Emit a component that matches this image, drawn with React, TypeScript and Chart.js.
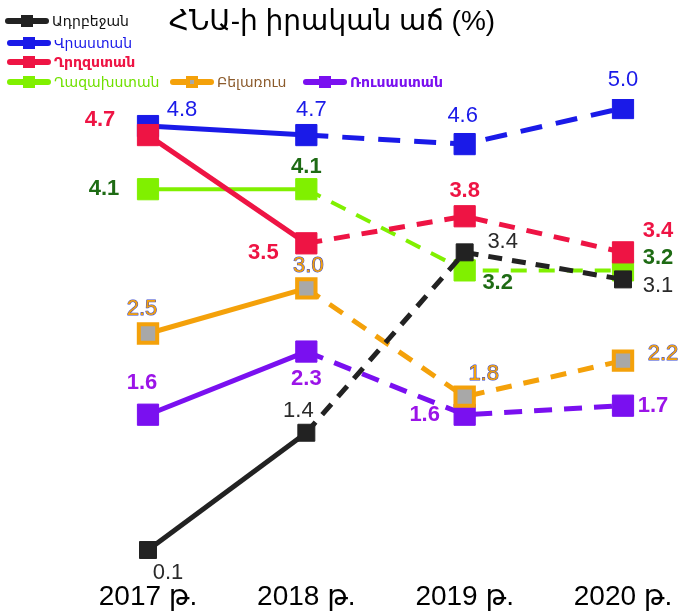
import React, { useEffect, useRef } from 'react';
import { Chart, registerables } from 'chart.js';

Chart.register(...registerables);

const TITLE = 'ՀՆԱ-ի իրական աճ (%)';
const YEARS = ['2017 թ.', '2018 թ.', '2019 թ.', '2020 թ.'];
const COUNTRIES = ['Ադրբեջան', 'Վրաստան', 'Ղրղզստան', 'Ղազախստան', 'Բելառուս', 'Ռուսաստան'];
const AZERBAIJAN = [0.1, 1.4, 3.4, 3.1];
const GEORGIA = [4.8, 4.7, 4.6, 5.0];
const KYRGYZSTAN = [4.7, 3.5, 3.8, 3.4];
const KAZAKHSTAN = [4.1, 4.1, 3.2, 3.2];
const BELARUS = [2.5, 3.0, 1.8, 2.2];
const RUSSIA = [1.6, 2.3, 1.6, 1.7];

const SERIES = [AZERBAIJAN, GEORGIA, KYRGYZSTAN, KAZAKHSTAN, BELARUS, RUSSIA];

const FONT = "Arial, 'Liberation Sans', 'DejaVu Sans', sans-serif";

const STYLES = [
  { line: '#222222', fill: '#222222', border: '#222222', bw: 1, r: 12, width: 5, dash: [14, 10], order: 1,
    label: '#2a2a2a', stroke: '#ffffff', bold: false, legendColor: '#111111', legendBold: false,
    offsets: [[20, 23], [-8, -22], [38, -10], [35, 7]] },
  { line: '#1a1ae8', fill: '#1a1ae8', border: '#1a1ae8', bw: 1, r: 15, width: 5, dash: [22, 14], order: 2,
    label: '#1a1ae8', stroke: null, bold: false, legendColor: '#1a1ae8', legendBold: false,
    offsets: [[34, -16], [5, -25], [-2, -28], [0, -28]] },
  { line: '#ee1444', fill: '#ee1444', border: '#ee1444', bw: 1, r: 15, width: 5, dash: [16, 12], order: 0,
    label: '#ee1444', stroke: null, bold: true, legendColor: '#ee1444', legendBold: true,
    offsets: [[-48, -15], [-43, 10], [0, -25], [35, -21]] },
  { line: '#80f000', fill: '#80f000', border: '#80f000', bw: 1, r: 15, width: 4, dash: [16, 12], order: 3,
    label: '#1e6b14', stroke: null, bold: true, legendColor: '#70e000', legendBold: false,
    offsets: [[-44, 0], [0, -22], [33, 13], [35, -12]] },
  { line: '#f4a10a', fill: '#a8a8a8', border: '#f4a10a', bw: 4, r: 13, width: 5, dash: [16, 12], order: 4,
    label: '#f4a10a', stroke: '#3344cc', bold: false, legendColor: '#8b5a2b', legendBold: false,
    offsets: [[-6, -25], [2, -22], [19, -23], [40, -7]] },
  { line: '#7a10f0', fill: '#7a10f0', border: '#7a10f0', bw: 1, r: 15, width: 5, dash: [18, 12], order: 5,
    label: '#9b14e8', stroke: null, bold: true, legendColor: '#7a10f0', legendBold: true,
    offsets: [[-6, -32], [0, 27], [-40, 0], [30, 0]] },
];

const LEGEND_POS = [[5, 21], [7, 43], [7, 62], [7, 82], [170, 82], [303, 82]];

const overlayPlugin = {
  id: 'overlay',
  afterDatasetsDraw(chart: any) {
    const ctx = chart.ctx;
    ctx.save();
    // data labels
    chart.data.datasets.forEach((ds: any, i: number) => {
      const st = STYLES[i];
      const meta = chart.getDatasetMeta(i);
      ctx.font = `${st.bold ? 'bold ' : ''}22px ${FONT}`;
      ctx.textAlign = 'center';
      ctx.textBaseline = 'middle';
      meta.data.forEach((pt: any, j: number) => {
        const txt = Number(ds.data[j]).toFixed(1);
        const [dx, dy] = st.offsets[j];
        const x = pt.x + dx;
        const y = pt.y + dy;
        if (st.stroke) {
          ctx.lineWidth = st.stroke === '#ffffff' ? 3 : 1;
          ctx.strokeStyle = st.stroke;
          ctx.lineJoin = 'round';
          ctx.strokeText(txt, x, y);
        }
        ctx.fillStyle = st.label;
        ctx.fillText(txt, x, y);
      });
    });
    // title
    ctx.font = `28px ${FONT}`;
    ctx.fillStyle = '#000000';
    ctx.textAlign = 'center';
    ctx.textBaseline = 'middle';
    ctx.fillText(TITLE, 332, 22);
    // legend
    chart.data.datasets.forEach((ds: any, i: number) => {
      const st = STYLES[i];
      const [lx, ly] = LEGEND_POS[i];
      ctx.strokeStyle = st.line;
      ctx.lineWidth = 6;
      ctx.lineCap = 'round';
      ctx.beginPath();
      ctx.moveTo(lx + 3, ly);
      ctx.lineTo(lx + 41, ly);
      ctx.stroke();
      ctx.fillStyle = st.border;
      ctx.fillRect(lx + 16, ly - 6, 12, 12);
      if (st.fill !== st.border) {
        ctx.fillStyle = st.fill;
        ctx.fillRect(lx + 20, ly - 2, 4, 4);
      }
      ctx.font = `${st.legendBold ? 'bold ' : ''}14px ${FONT}`;
      ctx.fillStyle = st.legendColor;
      ctx.textAlign = 'left';
      ctx.textBaseline = 'middle';
      ctx.fillText(ds.label, lx + 47, ly + 1);
    });
    ctx.restore();
  },
};

export default function App() {
  const ref = useRef<HTMLCanvasElement | null>(null);
  useEffect(() => {
    if (!ref.current) return;
    const chart = new Chart(ref.current, {
      type: 'line',
      data: {
        labels: YEARS,
        datasets: SERIES.map((values, i) => {
          const st = STYLES[i];
          return {
            label: COUNTRIES[i],
            data: values,
            order: st.order,
            borderColor: st.line,
            borderWidth: st.width,
            backgroundColor: st.fill,
            pointStyle: 'rect',
            pointRadius: st.r,
            pointBackgroundColor: st.fill,
            pointBorderColor: st.border,
            pointBorderWidth: st.bw,
            tension: 0,
            fill: false,
            segment: {
              borderDash: (c: any) => (c.p0DataIndex >= 1 ? st.dash : undefined),
            },
          };
        }),
      },
      options: {
        responsive: true,
        maintainAspectRatio: false,
        animation: false,
        layout: { padding: { left: 148, right: 62, top: 99, bottom: 0 } },
        plugins: {
          legend: { display: false },
          title: { display: false },
          tooltip: { enabled: false },
        },
        scales: {
          x: {
            offset: false,
            grid: { display: false },
            border: { display: false },
            ticks: {
              color: '#000000',
              font: { size: 28, family: FONT, lineHeight: 1 },
              padding: 1,
              maxRotation: 0,
              autoSkip: false,
            },
          },
          y: { display: false, min: -0.166, max: 5.1 },
        },
      },
      plugins: [overlayPlugin],
    });
    return () => chart.destroy();
  }, []);
  return (
    <div style={{ position: 'fixed', left: 0, top: 0, width: 685, height: 612, background: '#ffffff' }}>
      <canvas ref={ref} />
    </div>
  );
}
